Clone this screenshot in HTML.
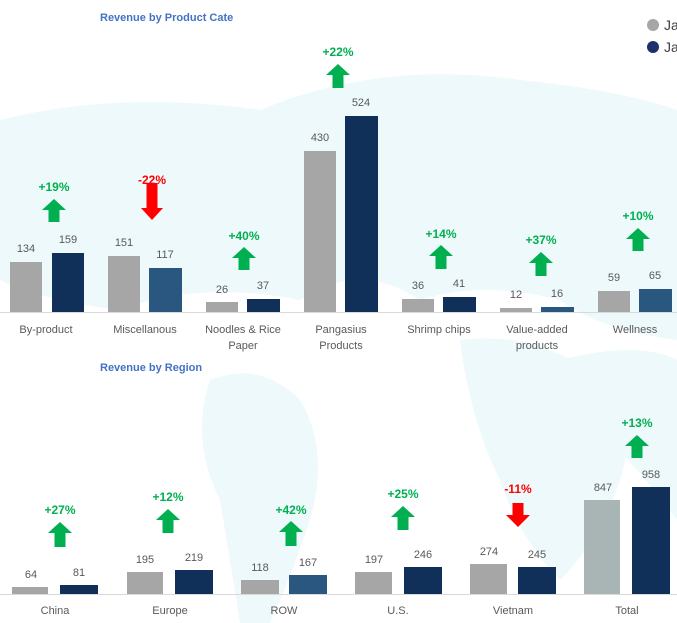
<!DOCTYPE html>
<html><head><meta charset="utf-8"><style>
html,body{margin:0;padding:0;background:#fff;}
svg{display:block;font-family:"Liberation Sans",sans-serif;}
.v{font-size:11px;fill:#595959;text-anchor:middle;}
.c{font-size:11px;fill:#595959;text-anchor:middle;}
.g{font-size:12px;font-weight:bold;fill:#00b050;text-anchor:middle;}
.r{font-size:12px;font-weight:bold;fill:#ff0000;text-anchor:middle;}
.t{font-size:11px;font-weight:bold;fill:#4472c4;}
.gr{fill:#a6a6a6;}
.nv{fill:#10305a;}
.ga{fill:#00b050;}
.ra{fill:#ff0000;}
</style></head><body>
<svg width="677" height="623" viewBox="0 0 677 623">
<g fill="#eef9fb">
<path d="M0 120 Q120 90 260 110 Q380 60 520 80 Q620 90 677 110 L677 340 Q600 330 560 300 Q480 280 420 300 Q360 260 300 300 Q200 280 120 310 Q40 300 0 280 Z"/>
<path d="M210 380 Q260 360 300 400 Q330 450 310 520 Q290 580 270 623 L240 623 Q230 560 220 500 Q190 440 210 380 Z"/>
<path d="M460 340 Q540 330 600 380 Q640 420 620 480 Q600 540 560 580 Q520 540 500 480 Q470 420 460 340 Z"/>
<path d="M560 360 Q640 340 677 360 L677 520 Q640 470 600 430 Z"/>
</g>
<text class="t" x="100" y="21">Revenue by Product Cate</text>
<circle cx="653" cy="25" r="6" fill="#a6a6a6"/><text x="664" y="30" font-size="14" fill="#404040">Ja</text>
<circle cx="653" cy="47" r="6" fill="#1f2f6b"/><text x="664" y="52" font-size="14" fill="#404040">Ja</text>
<line x1="0" y1="312.5" x2="677" y2="312.5" stroke="#d9d9d9"/>
<rect class="gr" x="10" y="262" width="32" height="50"/><rect class="nv" x="52" y="253" width="32" height="59"/>
<rect class="gr" x="108" y="256" width="32" height="56"/><rect x="149" y="268" width="33" height="44" fill="#2a5780"/>
<rect class="gr" x="206" y="302" width="32" height="10"/><rect class="nv" x="247" y="299" width="33" height="13"/>
<rect class="gr" x="304" y="151" width="32" height="161"/><rect class="nv" x="345" y="116" width="33" height="196"/>
<rect class="gr" x="402" y="299" width="32" height="13"/><rect class="nv" x="443" y="297" width="33" height="15"/>
<rect class="gr" x="500" y="308" width="32" height="4"/><rect x="541" y="307" width="33" height="5" fill="#2a5780"/>
<rect class="gr" x="598" y="291" width="32" height="21"/><rect x="639" y="289" width="33" height="23" fill="#2a5780"/>
<text class="v" x="26" y="252">134</text><text class="v" x="68" y="243">159</text>
<text class="v" x="124" y="246">151</text><text class="v" x="165" y="258">117</text>
<text class="v" x="222" y="293">26</text><text class="v" x="263" y="289">37</text>
<text class="v" x="320" y="141">430</text><text class="v" x="361" y="106">524</text>
<text class="v" x="418" y="289">36</text><text class="v" x="459" y="287">41</text>
<text class="v" x="516" y="298">12</text><text class="v" x="557" y="297">16</text>
<text class="v" x="614" y="281">59</text><text class="v" x="655" y="279">65</text>
<text class="c" x="46" y="333">By-product</text>
<text class="c" x="145" y="333">Miscellanous</text>
<text class="c" x="243" y="333">Noodles &amp; Rice</text><text class="c" x="243" y="349">Paper</text>
<text class="c" x="341" y="333">Pangasius</text><text class="c" x="341" y="349">Products</text>
<text class="c" x="439" y="333">Shrimp chips</text>
<text class="c" x="537" y="333">Value-added</text><text class="c" x="537" y="349">products</text>
<text class="c" x="635" y="333">Wellness</text>
<text class="g" x="54" y="191">+19%</text>
<polygon class="ga" points="54,199 66,210 59.5,210 59.5,222 48.5,222 48.5,210 42,210"/>
<text class="r" x="152" y="184">-22%</text>
<polygon class="ra" points="146.5,183 157.5,183 157.5,208 163,208 152,220 141,208 146.5,208"/>
<text class="g" x="244" y="240">+40%</text>
<polygon class="ga" points="244,247 256,258 249.5,258 249.5,270 238.5,270 238.5,258 232,258"/>
<text class="g" x="338" y="56">+22%</text>
<polygon class="ga" points="338,64 350,75 343.5,75 343.5,88 332.5,88 332.5,75 326,75"/>
<text class="g" x="441" y="238">+14%</text>
<polygon class="ga" points="441,245 453,256 446.5,256 446.5,269 435.5,269 435.5,256 429,256"/>
<text class="g" x="541" y="244">+37%</text>
<polygon class="ga" points="541,252 553,263 546.5,263 546.5,276 535.5,276 535.5,263 529,263"/>
<text class="g" x="638" y="220">+10%</text>
<polygon class="ga" points="638,228 650,239 643.5,239 643.5,251 632.5,251 632.5,239 626,239"/>
<text class="t" x="100" y="371">Revenue by Region</text>
<line x1="0" y1="594.5" x2="677" y2="594.5" stroke="#d9d9d9"/>
<rect class="gr" x="12" y="587" width="36" height="7"/><rect class="nv" x="60" y="585" width="38" height="9"/>
<rect class="gr" x="127" y="572" width="36" height="22"/><rect class="nv" x="175" y="570" width="38" height="24"/>
<rect class="gr" x="241" y="580" width="38" height="14"/><rect x="289" y="575" width="38" height="19" fill="#2a5780"/>
<rect class="gr" x="355" y="572" width="37" height="22"/><rect class="nv" x="404" y="567" width="38" height="27"/>
<rect class="gr" x="470" y="564" width="37" height="30"/><rect class="nv" x="518" y="567" width="38" height="27"/>
<rect x="584" y="500" width="36" height="94" fill="#a9b4b4"/><rect class="nv" x="632" y="487" width="38" height="107"/>
<text class="v" x="31" y="578">64</text><text class="v" x="79" y="576">81</text>
<text class="v" x="145" y="563">195</text><text class="v" x="194" y="561">219</text>
<text class="v" x="260" y="571">118</text><text class="v" x="308" y="566">167</text>
<text class="v" x="374" y="563">197</text><text class="v" x="423" y="558">246</text>
<text class="v" x="489" y="555">274</text><text class="v" x="537" y="558">245</text>
<text class="v" x="603" y="491">847</text><text class="v" x="651" y="478">958</text>
<text class="c" x="55" y="614">China</text>
<text class="c" x="170" y="614">Europe</text>
<text class="c" x="284" y="614">ROW</text>
<text class="c" x="398" y="614">U.S.</text>
<text class="c" x="513" y="614">Vietnam</text>
<text class="c" x="627" y="614">Total</text>
<text class="g" x="60" y="514">+27%</text>
<polygon class="ga" points="60,522 72,533 65.5,533 65.5,547 54.5,547 54.5,533 48,533"/>
<text class="g" x="168" y="501">+12%</text>
<polygon class="ga" points="168,509 180,520 173.5,520 173.5,533 162.5,533 162.5,520 156,520"/>
<text class="g" x="291" y="514">+42%</text>
<polygon class="ga" points="291,521 303,532 296.5,532 296.5,546 285.5,546 285.5,532 279,532"/>
<text class="g" x="403" y="498">+25%</text>
<polygon class="ga" points="403,506 415,517 408.5,517 408.5,530 397.5,530 397.5,517 391,517"/>
<text class="r" x="518" y="493">-11%</text>
<polygon class="ra" points="512.5,503 523.5,503 523.5,515 530,515 518,527 506,515 512.5,515"/>
<text class="g" x="637" y="427">+13%</text>
<polygon class="ga" points="637,435 649,446 642.5,446 642.5,458 631.5,458 631.5,446 625,446"/>
</svg>
</body></html>
